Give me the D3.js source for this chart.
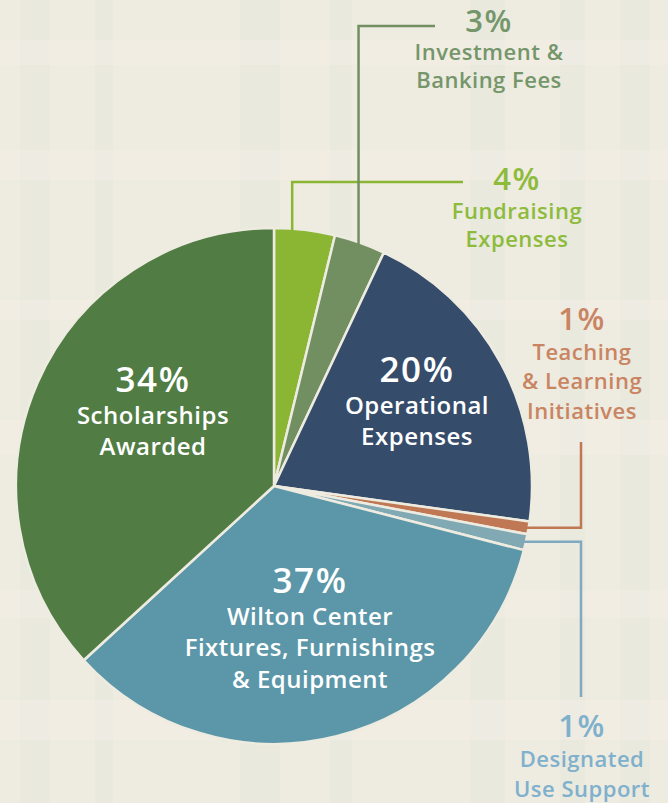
<!DOCTYPE html>
<html>
<head>
<meta charset="utf-8">
<script src="https://cdn.jsdelivr.net/npm/d3@7"></script>
<style>
  body { margin: 0; background: #eeebe1; }
  svg { display: block; }
</style>
</head>
<body>
<div id="chart"></div>
<script>
// slices, clockwise from 12 o'clock
var categories = ["Fundraising Expenses", "Investment & Banking Fees", "Operational Expenses",
  "Teaching & Learning Initiatives", "Designated Use Support",
  "Wilton Center Fixtures, Furnishings & Equipment", "Scholarships Awarded"];
var values = [3.8, 3.2, 20.2, 0.8, 1.0, 34.2, 36.8];
var pctLabels = ["4%", "3%", "20%", "1%", "1%", "37%", "34%"];
var labelLines = [
  ["Fundraising", "Expenses"],
  ["Investment &", "Banking Fees"],
  ["Operational", "Expenses"],
  ["Teaching", "& Learning", "Initiatives"],
  ["Designated", "Use Support"],
  ["Wilton Center", "Fixtures, Furnishings", "& Equipment"],
  ["Scholarships", "Awarded"]
];
var colors = ["#8ab634", "#728f62", "#364c6b", "#bf7853", "#80a9b4", "#5b97a8", "#517d44"];
var textColors = ["#8dbb3c", "#74966a", "#fff", "#c98462", "#7fb0cc", "#fff", "#fff"];

var W = 668, H = 803;
var cx = 274, cy = 486, R = 258;

var svg = d3.select("#chart").append("svg")
  .attr("width", W).attr("height", H)
  .style("font-family", "'Open Sans', Lato, sans-serif");

// background with faint plaid
svg.append("rect").attr("width", W).attr("height", H).attr("fill", "#eeebe1");
var stripesV = [[20, 30], [95, 18], [240, 40], [330, 22], [470, 35], [560, 25], [620, 30]];
var stripesH = [[40, 25], [150, 30], [300, 20], [420, 35], [590, 28], [700, 40]];
stripesV.forEach(function (s) {
  svg.append("rect").attr("x", s[0]).attr("y", 0).attr("width", s[1]).attr("height", H)
    .attr("fill", "#e3e6dc").attr("opacity", 0.45);
});
stripesH.forEach(function (s) {
  svg.append("rect").attr("x", 0).attr("y", s[0]).attr("width", W).attr("height", s[1])
    .attr("fill", "#f4efe6").attr("opacity", 0.5);
});

var pie = d3.pie().sort(null).value(function (d) { return d; });
var arcs = pie(values);
var arc = d3.arc().innerRadius(0).outerRadius(R);

var g = svg.append("g").attr("transform", "translate(" + cx + "," + cy + ")");

// leader lines (drawn under slices)
function edge(a, r) {
  return [cx + r * Math.sin(a), cy - r * Math.cos(a)];
}
var leaders = svg.append("g").attr("fill", "none").attr("stroke-width", 2.5);
// fundraising: up from its slice, across to label
var pF = edge(arcs[0].startAngle + (arcs[0].endAngle - arcs[0].startAngle) * 0.3, R - 4);
leaders.append("polyline").attr("stroke", colors[0])
  .attr("points", [[pF[0], pF[1]], [pF[0], 182], [463, 182]].join(" "));
var pI = edge((arcs[1].startAngle + arcs[1].endAngle) / 2, R - 4);
leaders.append("polyline").attr("stroke", colors[1])
  .attr("points", [[pI[0], pI[1]], [pI[0], 26], [435, 26]].join(" "));
var pT = edge((arcs[3].startAngle + arcs[3].endAngle) / 2, R - 2);
leaders.append("polyline").attr("stroke", colors[3])
  .attr("points", [[pT[0], pT[1]], [581, pT[1]], [581, 442]].join(" "));
var pD = edge((arcs[4].startAngle + arcs[4].endAngle) / 2, R - 2);
leaders.append("polyline").attr("stroke", "#7fa9c0")
  .attr("points", [[pD[0], pD[1]], [581, pD[1]], [581, 697]].join(" "));

g.selectAll("path").data(arcs).enter().append("path")
  .attr("d", arc)
  .attr("fill", function (d, i) { return colors[i]; })
  .attr("stroke", "#eeebe1")
  .attr("stroke-width", 2.5)
  .attr("stroke-linejoin", "round");

// label anchors: [x of centre, baseline of percentage, line spacing]
var labelPos = [
  [517, 190, 28.5], [489, 32, 28], [417, 382, 31.5], [582, 330, 29.5],
  [582, 737, 30], [310, 593, 31.5], [153, 392, 31.5]
];
var pctSize = [31, 31, 35, 31, 31, 35, 35];
var txtSize = [22, 22, 24, 22, 22, 24, 24];

categories.forEach(function (c, i) {
  var t = svg.append("text")
    .attr("text-anchor", "middle")
    .attr("fill", textColors[i])
    .attr("font-weight", 600)
    .attr("letter-spacing", 0.5);
  t.append("tspan")
    .attr("x", labelPos[i][0]).attr("y", labelPos[i][1])
    .attr("font-size", pctSize[i])
    .attr("letter-spacing", 1.5)
    .text(pctLabels[i]);
  labelLines[i].forEach(function (line, k) {
    t.append("tspan")
      .attr("x", labelPos[i][0])
      .attr("y", labelPos[i][1] + (k + 1) * labelPos[i][2])
      .attr("font-size", txtSize[i])
      .text(line);
  });
});
</script>
</body>
</html>
